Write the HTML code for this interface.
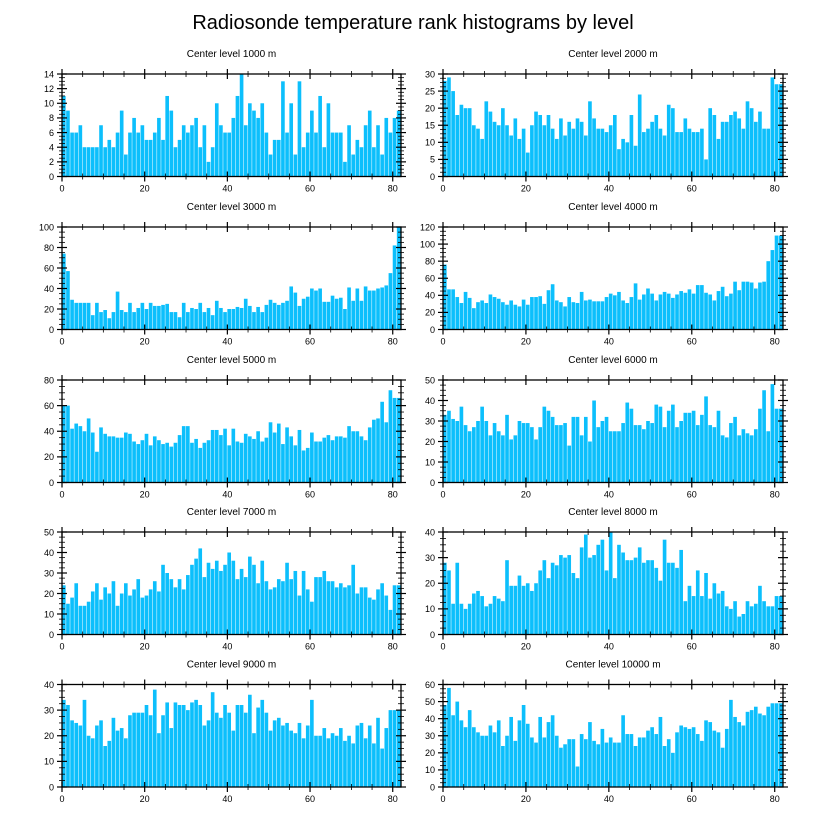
<!DOCTYPE html>
<html><head><meta charset="utf-8">
<style>
html,body{margin:0;padding:0;background:#fff;}
svg{display:block;font-family:"Liberation Sans",Arial,sans-serif;}
</style></head>
<body>
<svg id="chart" width="822" height="824" viewBox="0 0 822 824" xmlns="http://www.w3.org/2000/svg">
<rect width="822" height="824" fill="#fff"/>
<text x="413" y="29" font-size="20" text-anchor="middle">Radiosonde temperature rank histograms by level</text>
</svg>
<script>
const levels = ["1000","2000","3000","4000","5000","6000","7000","8000","9000","10000"];
const yMax = [14,30,100,120,80,50,50,40,40,60];
const yStep = [2,5,20,20,20,10,10,10,10,10];
const xTicks = [0,20,40,60,80];
const v1000 = [11,9,6,6,7,4,4,4,4,7,4,5,4,6,9,3,6,8,6,7,5,5,6,8,5,11,9,4,5,7,6,7,8,4,7,2,4,10,7,6,6,8,11,14,7,10,9,8,10,6,3,5,5,13,6,10,3,13,4,6,9,6,11,4,10,6,6,6,2,7,3,5,4,7,9,4,7,3,8,6,8,9];
const v2000 = [28,29,25,18,21,20,20,15,14,11,22,19,16,15,20,15,12,17,11,14,7,15,19,18,15,18,14,11,17,12,16,14,17,16,12,22,17,14,14,13,15,18,8,11,10,18,9,24,13,14,16,18,14,12,21,20,13,13,17,14,13,13,14,5,20,18,11,16,16,18,19,17,14,22,20,16,19,14,14,29,27,27];
const v3000 = [74,57,29,26,26,26,26,14,26,17,19,11,17,37,19,17,26,17,21,26,20,26,23,23,24,25,17,17,12,26,17,21,20,26,17,21,14,28,21,17,20,20,22,21,30,23,17,22,17,24,29,26,24,26,28,42,36,23,30,32,40,38,40,27,27,33,30,31,20,41,28,40,28,42,38,38,40,41,43,55,82,100];
const v4000 = [76,47,47,38,31,44,37,25,32,34,31,41,38,36,32,29,34,29,27,35,29,38,38,39,30,46,53,34,32,27,38,32,31,44,34,35,33,33,33,38,42,40,44,34,31,38,54,35,41,48,42,34,41,44,42,37,41,45,43,47,42,52,52,43,41,34,45,50,39,42,56,46,56,56,55,48,55,56,80,93,110,110];
const v5000 = [60,60,42,46,44,40,50,39,24,43,38,36,36,35,35,39,38,32,30,33,38,29,36,33,30,31,28,31,37,44,44,31,34,27,31,33,41,41,37,42,29,42,32,31,38,36,34,40,32,35,47,39,46,30,43,36,29,41,25,27,39,32,32,35,37,33,36,36,35,44,40,40,36,33,43,49,50,63,47,72,66,66];
const v6000 = [33,35,31,30,37,28,25,27,30,37,30,23,29,25,23,33,21,23,30,29,29,27,21,27,37,35,32,28,28,29,18,32,32,23,32,20,40,27,30,32,25,25,25,29,39,36,28,28,26,30,29,38,37,27,35,38,27,30,34,34,35,28,33,42,28,27,35,23,22,29,32,23,26,24,23,26,36,45,25,48,36,36];
const v7000 = [24,15,18,25,14,14,16,21,25,17,23,20,26,14,20,25,19,22,27,18,19,22,26,21,34,30,27,23,27,22,29,34,37,42,28,35,32,36,31,34,40,36,27,32,28,38,34,25,36,26,22,23,27,26,35,27,31,19,31,22,16,28,28,31,26,26,23,25,23,24,34,20,23,23,18,17,22,25,19,12,24,24];
const v8000 = [28,25,12,28,12,10,12,16,17,15,11,12,15,14,13,29,19,19,23,19,20,17,20,25,29,22,28,27,31,30,31,24,22,34,39,30,31,35,37,25,40,22,35,32,29,29,30,34,28,29,29,26,21,37,28,28,26,33,13,19,15,25,15,24,14,20,16,17,11,10,13,7,8,13,11,12,19,13,11,11,15,15];
const v9000 = [34,32,26,25,24,34,20,19,24,26,16,18,27,22,23,19,28,29,29,29,32,28,38,21,28,33,23,33,32,32,30,33,34,32,24,26,37,29,27,32,29,22,32,32,29,36,21,31,34,29,22,26,27,24,25,22,21,25,19,24,34,20,20,23,19,21,20,23,18,20,17,24,25,19,24,17,27,15,23,30,30,30];
const v10000 = [48,58,42,50,39,35,45,35,32,30,30,36,32,39,24,30,41,27,39,48,37,29,26,41,29,38,42,30,23,25,28,28,12,31,28,38,27,25,34,26,29,26,26,42,31,31,24,29,29,33,35,31,41,24,28,20,32,36,35,34,35,31,27,39,38,33,32,23,34,51,41,38,36,44,45,47,43,42,47,49,49,49];
const series = [v1000,v2000,v3000,v4000,v5000,v6000,v7000,v8000,v9000,v10000];

const NS = "http://www.w3.org/2000/svg";
const svg = document.getElementById("chart");
function mk(tag, attrs, parent){
  const e = document.createElementNS(NS, tag);
  for (const k in attrs) e.setAttribute(k, attrs[k]);
  (parent||svg).appendChild(e);
  return e;
}
const colX = [62, 443], colW = [339, 340];
const rowY = [74, 227, 380, 532, 684.5], plotH = 102.5;
const XMAX = 82;

series.forEach((vals, p) => {
  const c = p % 2, r = Math.floor(p / 2);
  const L = colX[c], W = colW[c], T = rowY[r], B = T + plotH;
  const xs = u => L + u / XMAX * W;
  const ys = v => B - v / yMax[p] * plotH;
  const g = mk("g", {});
  
  
  const t = mk("text", {x: L + W/2, y: T - 17, "font-size": 10, "text-anchor": "middle"}, g);
  
  
  t.textContent = "Center level " + levels[p] + " m";
  vals.forEach((v, i) => {
    const x0 = xs(i), x1 = xs(i + 1);
    const b = mk("rect", {x: x0, y: ys(v), width: Math.max(0.5, x1 - x0 - 0.5), height: B - ys(v), fill: "#0cbffc"}, g);
    
    
  });
  for (let u = 0; u <= 80; u += 5) {
    const major = u % 20 === 0, len = major ? 5 : 3, x = xs(u);
    mk("line", {x1: x, x2: x, y1: B - len, y2: B + len, stroke: "#000", "stroke-width": major ? 1.2 : 0.8}, g);
    mk("line", {x1: x, x2: x, y1: T - len, y2: T + len, stroke: "#000", "stroke-width": major ? 1.2 : 0.8}, g);
  }
  xTicks.forEach(u => {
    const tl = mk("text", {x: xs(u), y: B + 15, "font-size": 9, "text-anchor": "middle"}, g);
    
    
    tl.textContent = u;
  });
  const minor = yStep[p] / 4;
  for (let k = 0; k * minor <= yMax[p] + 1e-9; k++) {
    const v = k * minor, major = k % 4 === 0, len = major ? 5 : 3, y = ys(v);
    mk("line", {x1: L - len, x2: L + len, y1: y, y2: y, stroke: "#000", "stroke-width": major ? 1.2 : 0.8}, g);
    mk("line", {x1: L + W - len, x2: L + W + len, y1: y, y2: y, stroke: "#000", "stroke-width": major ? 1.2 : 0.8}, g);
    if (major) {
      const yl = mk("text", {x: L - 8, y: y + 3.3, "font-size": 9, "text-anchor": "end"}, g);
      
      
      yl.textContent = v;
    }
  }
  mk("rect", {x: L, y: T, width: W, height: plotH, fill: "none", stroke: "#000", "stroke-width": 1.3}, g);
});
</script>
</body></html>
